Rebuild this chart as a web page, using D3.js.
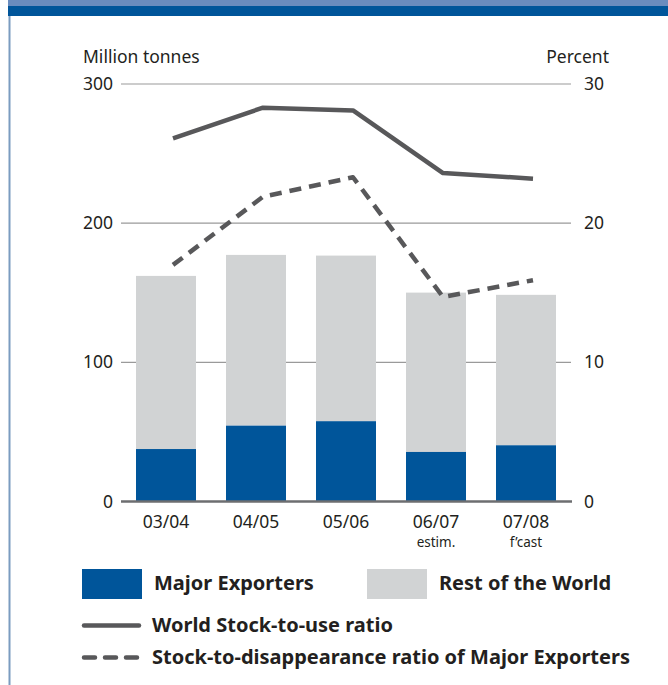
<!DOCTYPE html>
<html>
<head>
<meta charset="utf-8">
<script src="https://cdn.jsdelivr.net/npm/d3@7"></script>
<style>
  html, body { margin: 0; padding: 0; background: #fff; }
  svg { display: block; }
  text { font-family: "Noto Sans", "Open Sans", sans-serif; fill: #231f20; }
</style>
</head>
<body>
<svg id="chart" width="668" height="685"></svg>
<script>
// Marketing years
const seasons = ["03/04", "04/05", "05/06", "06/07", "07/08"];
const seasonNotes = ["", "", "", "estim.", "f\u2019cast"];

// Stocks, million tonnes
const majorExporters = [37.7, 54.5, 57.7, 35.6, 40.4];
const restOfWorld = [124.4, 122.7, 119.0, 114.5, 108.1];

// Ratios, percent
const worldStockToUse = [26.1, 28.3, 28.1, 23.6, 23.2];
const majorStockToDisappearance = [17.0, 21.9, 23.3, 14.7, 15.9];

// Axis ticks
const leftTicks = [0, 100, 200, 300];
const rightTicks = [0, 10, 20, 30];

const BLUE = "#00559a";
const GREY = "#d1d3d4";
const LINE = "#58585a";
const FONT = 17.5;

const svg = d3.select("#chart");

// Header band and left rule
svg.append("rect").attr("x", 8).attr("y", 0).attr("width", 660).attr("height", 6).attr("fill", "#6a8cbe");
svg.append("rect").attr("x", 8).attr("y", 6).attr("width", 660).attr("height", 10).attr("fill", BLUE);
svg.append("rect").attr("x", 8.5).attr("y", 16).attr("width", 2).attr("height", 669).attr("fill", "#7b9cc0");

const x = d3.scaleBand().domain(seasons).range([121, 571]).paddingInner(1 / 3).paddingOuter(1 / 6);
const y = d3.scaleLinear().domain([0, 300]).range([501.5, 84]);
const yr = d3.scaleLinear().domain([0, 30]).range([501.5, 84]);

// Gridlines
svg.append("g")
  .selectAll("line")
  .data(leftTicks.filter(d => d > 0))
  .join("line")
  .attr("x1", 121).attr("x2", 571)
  .attr("y1", d => y(d)).attr("y2", d => y(d))
  .attr("stroke", "#9a9a9a").attr("stroke-width", 1.2);

const styleTicks = g => g.selectAll("text").attr("font-size", FONT).attr("fill", "#231f20")
  .style("font-family", '"Noto Sans", sans-serif');

// Left axis labels
const leftAxis = d3.axisLeft(y).tickValues(leftTicks).tickSize(0).tickPadding(8).tickFormat(d3.format("d"));
svg.append("g").attr("transform", "translate(121,0)").call(leftAxis)
  .call(g => g.select(".domain").remove())
  .call(styleTicks);

// Right axis labels
const rightAxis = d3.axisRight(yr).tickValues(rightTicks).tickSize(0).tickPadding(13).tickFormat(d3.format("d"));
svg.append("g").attr("transform", "translate(571,0)").call(rightAxis)
  .call(g => g.select(".domain").remove())
  .call(styleTicks);

// Axis titles
svg.append("text").attr("x", 83).attr("y", 63).attr("font-size", FONT).text("Million tonnes");
svg.append("text").attr("x", 609).attr("y", 63).attr("font-size", FONT).attr("text-anchor", "end").text("Percent");

// Stacked bars
const stacked = seasons.map((s, i) => ({ s, major: majorExporters[i], rest: restOfWorld[i] }));
const bars = svg.append("g");
bars.selectAll("rect.rest")
  .data(stacked).join("rect").attr("class", "rest")
  .attr("x", d => x(d.s)).attr("width", x.bandwidth())
  .attr("y", d => y(d.major + d.rest)).attr("height", d => y(d.major) - y(d.major + d.rest))
  .attr("fill", GREY);
bars.selectAll("rect.major")
  .data(stacked).join("rect").attr("class", "major")
  .attr("x", d => x(d.s)).attr("width", x.bandwidth())
  .attr("y", d => y(d.major)).attr("height", d => y(0) - y(d.major))
  .attr("fill", BLUE);

// Zero axis
svg.append("line").attr("x1", 121).attr("x2", 572).attr("y1", y(0)).attr("y2", y(0))
  .attr("stroke", "#6d6e70").attr("stroke-width", 2.5);

// Category labels
const bottomAxis = d3.axisBottom(x).tickSize(0).tickPadding(14);
svg.append("g").attr("transform", `translate(0,${y(0)})`).call(bottomAxis)
  .call(g => g.select(".domain").remove())
  .call(styleTicks);
svg.append("g").selectAll("text")
  .data(seasons.map((s, i) => ({ s, note: seasonNotes[i] })).filter(d => d.note))
  .join("text")
  .attr("x", d => x(d.s) + x.bandwidth() / 2).attr("y", 547)
  .attr("text-anchor", "middle").attr("font-size", 13.5).text(d => d.note);

// Ratio lines (plotted slightly right of bar centres)
const px = s => x(s) + x.bandwidth() / 2 + 7;
const line = d3.line().x(d => px(d.s)).y(d => yr(d.v));
svg.append("path")
  .datum(seasons.map((s, i) => ({ s, v: worldStockToUse[i] })))
  .attr("d", line).attr("fill", "none").attr("stroke", LINE).attr("stroke-width", 4.5)
  .attr("stroke-linejoin", "round");
svg.append("path")
  .datum(seasons.map((s, i) => ({ s, v: majorStockToDisappearance[i] })))
  .attr("d", line).attr("fill", "none").attr("stroke", LINE).attr("stroke-width", 4.5)
  .attr("stroke-dasharray", "12,8").attr("stroke-linejoin", "round");

// Legend
const LFONT = 20;
const legend = svg.append("g");
legend.append("rect").attr("x", 82).attr("y", 569).attr("width", 60).attr("height", 30).attr("fill", BLUE);
legend.append("text").attr("x", 154).attr("y", 590).attr("font-size", LFONT).attr("font-weight", "bold").text("Major Exporters");
legend.append("rect").attr("x", 367).attr("y", 569).attr("width", 60).attr("height", 30).attr("fill", GREY);
legend.append("text").attr("x", 439).attr("y", 590).attr("font-size", LFONT).attr("font-weight", "bold").text("Rest of the World");

legend.append("line").attr("x1", 84).attr("x2", 139).attr("y1", 625.5).attr("y2", 625.5)
  .attr("stroke", LINE).attr("stroke-width", 4.5).attr("stroke-linecap", "round");
legend.append("text").attr("x", 152).attr("y", 632).attr("font-size", LFONT).attr("font-weight", "bold").text("World Stock-to-use ratio");

legend.append("line").attr("x1", 84).attr("x2", 139).attr("y1", 657.5).attr("y2", 657.5)
  .attr("stroke", LINE).attr("stroke-width", 4.5).attr("stroke-linecap", "round")
  .attr("stroke-dasharray", "11,10");
legend.append("text").attr("x", 152).attr("y", 664).attr("font-size", LFONT).attr("font-weight", "bold").text("Stock-to-disappearance ratio of Major Exporters");
</script>
</body>
</html>
